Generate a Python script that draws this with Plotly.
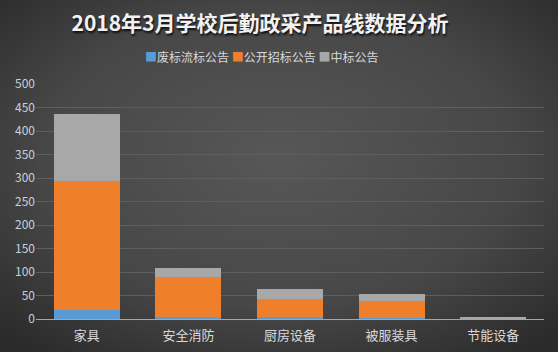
import plotly.graph_objects as go
import base64

categories = ["家具", "安全消防", "厨房设备", "被服装具", "节能设备"]
series_names = ["废标流标公告", "公开招标公告", "中标公告"]
abandoned = [20, 4, 4, 3, 0]
open_tender = [274, 86, 39, 35, 0]
awarded = [143, 19, 21, 15, 4]
y_ticks = list(range(0, 501, 50))

colors = ["#5b9bd5", "#f07f2c", "#a8a8a8"]

svg = ('<svg xmlns="http://www.w3.org/2000/svg" width="558" height="352">'
       '<defs><radialGradient id="g" cx="50%" cy="45%" r="70%">'
       '<stop offset="0%" stop-color="#575757"/><stop offset="60%" stop-color="#474747"/>'
       '<stop offset="100%" stop-color="#2b2b2b"/></radialGradient></defs>'
       '<rect width="558" height="352" fill="url(#g)"/></svg>')
src = "data:image/svg+xml;base64," + base64.b64encode(svg.encode()).decode()

fig = go.Figure()
for name, vals, c in zip(series_names, [abandoned, open_tender, awarded], colors):
    fig.add_trace(go.Bar(x=categories, y=vals, name=name, marker=dict(color=c, line=dict(width=0))))

legend_text = " ".join(
    f"<span style='color:{c}'>■</span>{n}" for n, c in zip(series_names, colors)
)

fig.update_layout(
    width=558, height=352,
    barmode="stack", bargap=0.35,
    paper_bgcolor="#444444", plot_bgcolor="rgba(0,0,0,0)",
    margin=dict(l=36, r=14, t=84, b=33),
    font=dict(family="Noto Sans CJK SC", color="#d9d9d9"),
    title=dict(text="<b>2018年3月学校后勤政采产品线数据分析</b>", x=260 / 558, xanchor="center",
               y=1 - 24 / 352, yanchor="middle",
               font=dict(size=21, color="#f2f2f2", family="Noto Sans CJK SC",
                         shadow="1px 2px 2px #111111")),
    showlegend=False,
    annotations=[dict(text=legend_text, xref="paper", yref="paper",
                      x=(261 - 36) / 508, y=1 + (84 - 57) / 235, xanchor="center", yanchor="middle",
                      showarrow=False, font=dict(size=12, color="#d9d9d9"))],
    images=[dict(source=src, xref="paper", yref="paper", x=-36 / 508, y=1 + 84 / 235,
                 sizex=558 / 508, sizey=352 / 235, xanchor="left", yanchor="top",
                 sizing="stretch", layer="below")],
)
fig.update_xaxes(showgrid=False, showline=True, linecolor="#a6a6a6", linewidth=1,
                 tickfont=dict(size=13, color="#d9d9d9"), ticks="", ticklabelstandoff=4,
                 automargin=False)
fig.update_yaxes(range=[0, 500], tickvals=y_ticks, gridcolor="#5e5e5e", gridwidth=1,
                 zeroline=False, showline=False, tickfont=dict(size=12, color="#c8d0dc"), ticks="",
                 automargin=False)

fig.write_html("out.html")
